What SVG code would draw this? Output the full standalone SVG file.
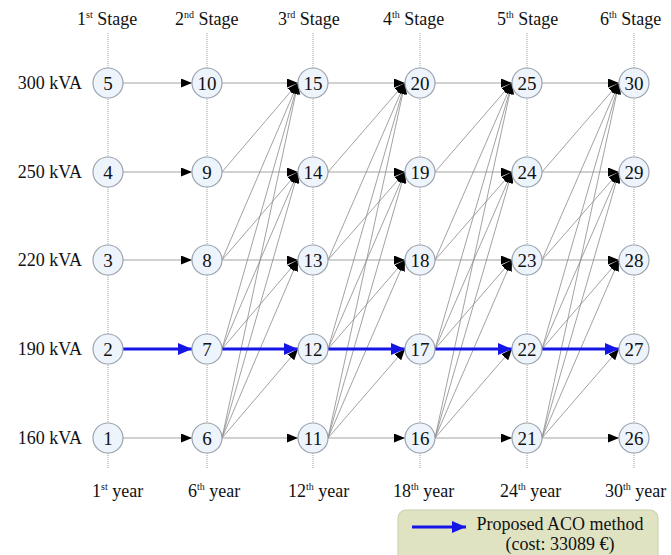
<svg xmlns="http://www.w3.org/2000/svg" width="671" height="555" viewBox="0 0 671 555">
<style>
text{font-family:"Liberation Serif","Times New Roman",serif;fill:#111;font-size:18px}
.grid{stroke:#9a9a9a;stroke-width:1;stroke-dasharray:1,1;fill:none}
.e{stroke:#8a8a8a;stroke-width:0.8;fill:none;marker-end:url(#ah)}
.b{stroke:#1515e6;stroke-width:3;fill:none;marker-end:url(#ahb)}
.n circle{fill:#eef4fb;stroke:#9aa3ad;stroke-width:1.2}
.n text{font-size:19px;text-anchor:middle}
.sup{font-size:10px}
</style>
<defs>
<marker id="ah" markerUnits="userSpaceOnUse" markerWidth="12" markerHeight="9" refX="11" refY="4.5" orient="auto">
<path d="M0,0 L11,4.5 L0,9 z" fill="#000"/>
</marker>
<marker id="ahb" markerUnits="userSpaceOnUse" markerWidth="15" markerHeight="12" refX="14" refY="6" orient="auto">
<path d="M0,0 L14,6 L0,12 z" fill="#1515e6"/>
</marker>
</defs>
<rect width="671" height="555" fill="#fff"/>
<g id="grid">
<path class="grid" d="M108,33V468M207,33V468M313,33V468M420,33V468M527,33V468M634,33V468"/>
</g>
<g id="labels">
<text x="77" y="25">1<tspan class="sup" dy="-7">st</tspan><tspan dy="7"> Stage</tspan></text>
<text x="175" y="25">2<tspan class="sup" dy="-7">nd</tspan><tspan dy="7"> Stage</tspan></text>
<text x="278" y="25">3<tspan class="sup" dy="-7">rd</tspan><tspan dy="7"> Stage</tspan></text>
<text x="383" y="25">4<tspan class="sup" dy="-7">th</tspan><tspan dy="7"> Stage</tspan></text>
<text x="497" y="25">5<tspan class="sup" dy="-7">th</tspan><tspan dy="7"> Stage</tspan></text>
<text x="600" y="25">6<tspan class="sup" dy="-7">th</tspan><tspan dy="7"> Stage</tspan></text>
<text x="82" y="89" text-anchor="end">300 kVA</text>
<text x="82" y="178" text-anchor="end">250 kVA</text>
<text x="82" y="266" text-anchor="end">220 kVA</text>
<text x="82" y="355" text-anchor="end">190 kVA</text>
<text x="82" y="444" text-anchor="end">160 kVA</text>
<text x="92" y="497">1<tspan class="sup" dy="-7">st</tspan><tspan dy="7"> year</tspan></text>
<text x="188" y="497">6<tspan class="sup" dy="-7">th</tspan><tspan dy="7"> year</tspan></text>
<text x="288" y="497">12<tspan class="sup" dy="-7">th</tspan><tspan dy="7"> year</tspan></text>
<text x="393" y="497">18<tspan class="sup" dy="-7">th</tspan><tspan dy="7"> year</tspan></text>
<text x="500" y="497">24<tspan class="sup" dy="-7">th</tspan><tspan dy="7"> year</tspan></text>
<text x="605" y="497">30<tspan class="sup" dy="-7">th</tspan><tspan dy="7"> year</tspan></text>
</g>
<g id="connectors">
<path class="e" d="M123,438L192,438"/>
<path class="e" d="M123,260L192,260"/>
<path class="e" d="M123,172L192,172"/>
<path class="e" d="M123,83L192,83"/>
<!-- 2->3 -->
<path class="e" d="M222,438L298,438"/>
<path class="e" d="M222,438L298,349"/>
<path class="e" d="M222,438L298,260"/>
<path class="e" d="M222,438L298,172"/>
<path class="e" d="M222,438L298,83"/>
<path class="e" d="M222,349L298,260"/>
<path class="e" d="M222,349L298,172"/>
<path class="e" d="M222,349L298,83"/>
<path class="e" d="M222,260L298,260"/>
<path class="e" d="M222,260L298,172"/>
<path class="e" d="M222,260L298,83"/>
<path class="e" d="M222,172L298,172"/>
<path class="e" d="M222,172L298,83"/>
<path class="e" d="M222,83L298,83"/>
<!-- 3->4 -->
<path class="e" d="M328,438L405,438"/>
<path class="e" d="M328,438L405,349"/>
<path class="e" d="M328,438L405,260"/>
<path class="e" d="M328,438L405,172"/>
<path class="e" d="M328,438L405,83"/>
<path class="e" d="M328,349L405,260"/>
<path class="e" d="M328,349L405,172"/>
<path class="e" d="M328,349L405,83"/>
<path class="e" d="M328,260L405,260"/>
<path class="e" d="M328,260L405,172"/>
<path class="e" d="M328,260L405,83"/>
<path class="e" d="M328,172L405,172"/>
<path class="e" d="M328,172L405,83"/>
<path class="e" d="M328,83L405,83"/>
<!-- 4->5 -->
<path class="e" d="M435,438L512,438"/>
<path class="e" d="M435,438L512,349"/>
<path class="e" d="M435,438L512,260"/>
<path class="e" d="M435,438L512,172"/>
<path class="e" d="M435,438L512,83"/>
<path class="e" d="M435,349L512,260"/>
<path class="e" d="M435,349L512,172"/>
<path class="e" d="M435,349L512,83"/>
<path class="e" d="M435,260L512,260"/>
<path class="e" d="M435,260L512,172"/>
<path class="e" d="M435,260L512,83"/>
<path class="e" d="M435,172L512,172"/>
<path class="e" d="M435,172L512,83"/>
<path class="e" d="M435,83L512,83"/>
<!-- 5->6 -->
<path class="e" d="M542,438L619,438"/>
<path class="e" d="M542,438L619,349"/>
<path class="e" d="M542,438L619,260"/>
<path class="e" d="M542,438L619,172"/>
<path class="e" d="M542,438L619,83"/>
<path class="e" d="M542,349L619,260"/>
<path class="e" d="M542,349L619,172"/>
<path class="e" d="M542,349L619,83"/>
<path class="e" d="M542,260L619,260"/>
<path class="e" d="M542,260L619,172"/>
<path class="e" d="M542,260L619,83"/>
<path class="e" d="M542,172L619,172"/>
<path class="e" d="M542,172L619,83"/>
<path class="e" d="M542,83L619,83"/>
<!-- blue ACO path -->
<path class="b" d="M123,349L192,349"/>
<path class="b" d="M222,349L298,349"/>
<path class="b" d="M328,349L405,349"/>
<path class="b" d="M435,349L512,349"/>
<path class="b" d="M542,349L619,349"/>
</g>
<g id="n1" class="n"><circle cx="108" cy="438" r="15"/><text x="108" y="444.5">1</text></g>
<g id="n2" class="n"><circle cx="108" cy="349" r="15"/><text x="108" y="355.5">2</text></g>
<g id="n3" class="n"><circle cx="108" cy="260" r="15"/><text x="108" y="266.5">3</text></g>
<g id="n4" class="n"><circle cx="108" cy="172" r="15"/><text x="108" y="178.5">4</text></g>
<g id="n5" class="n"><circle cx="108" cy="83" r="15"/><text x="108" y="89.5">5</text></g>
<g id="n6" class="n"><circle cx="207" cy="438" r="15"/><text x="207" y="444.5">6</text></g>
<g id="n7" class="n"><circle cx="207" cy="349" r="15"/><text x="207" y="355.5">7</text></g>
<g id="n8" class="n"><circle cx="207" cy="260" r="15"/><text x="207" y="266.5">8</text></g>
<g id="n9" class="n"><circle cx="207" cy="172" r="15"/><text x="207" y="178.5">9</text></g>
<g id="n10" class="n"><circle cx="207" cy="83" r="15"/><text x="207" y="89.5">10</text></g>
<g id="n11" class="n"><circle cx="313" cy="438" r="15"/><text x="313" y="444.5">11</text></g>
<g id="n12" class="n"><circle cx="313" cy="349" r="15"/><text x="313" y="355.5">12</text></g>
<g id="n13" class="n"><circle cx="313" cy="260" r="15"/><text x="313" y="266.5">13</text></g>
<g id="n14" class="n"><circle cx="313" cy="172" r="15"/><text x="313" y="178.5">14</text></g>
<g id="n15" class="n"><circle cx="313" cy="83" r="15"/><text x="313" y="89.5">15</text></g>
<g id="n16" class="n"><circle cx="420" cy="438" r="15"/><text x="420" y="444.5">16</text></g>
<g id="n17" class="n"><circle cx="420" cy="349" r="15"/><text x="420" y="355.5">17</text></g>
<g id="n18" class="n"><circle cx="420" cy="260" r="15"/><text x="420" y="266.5">18</text></g>
<g id="n19" class="n"><circle cx="420" cy="172" r="15"/><text x="420" y="178.5">19</text></g>
<g id="n20" class="n"><circle cx="420" cy="83" r="15"/><text x="420" y="89.5">20</text></g>
<g id="n21" class="n"><circle cx="527" cy="438" r="15"/><text x="527" y="444.5">21</text></g>
<g id="n22" class="n"><circle cx="527" cy="349" r="15"/><text x="527" y="355.5">22</text></g>
<g id="n23" class="n"><circle cx="527" cy="260" r="15"/><text x="527" y="266.5">23</text></g>
<g id="n24" class="n"><circle cx="527" cy="172" r="15"/><text x="527" y="178.5">24</text></g>
<g id="n25" class="n"><circle cx="527" cy="83" r="15"/><text x="527" y="89.5">25</text></g>
<g id="n26" class="n"><circle cx="634" cy="438" r="15"/><text x="634" y="444.5">26</text></g>
<g id="n27" class="n"><circle cx="634" cy="349" r="15"/><text x="634" y="355.5">27</text></g>
<g id="n28" class="n"><circle cx="634" cy="260" r="15"/><text x="634" y="266.5">28</text></g>
<g id="n29" class="n"><circle cx="634" cy="172" r="15"/><text x="634" y="178.5">29</text></g>
<g id="n30" class="n"><circle cx="634" cy="83" r="15"/><text x="634" y="89.5">30</text></g>
<g id="legend">
<rect x="398" y="510" width="260" height="60" rx="8" fill="#e0e3c2" stroke="#c9ccab"/>
<path class="b" d="M412,527L466,527"/>
<text x="560" y="530" text-anchor="middle">Proposed ACO method</text>
<text x="560" y="550" text-anchor="middle">(cost: 33089 €)</text>
</g>
</svg>
